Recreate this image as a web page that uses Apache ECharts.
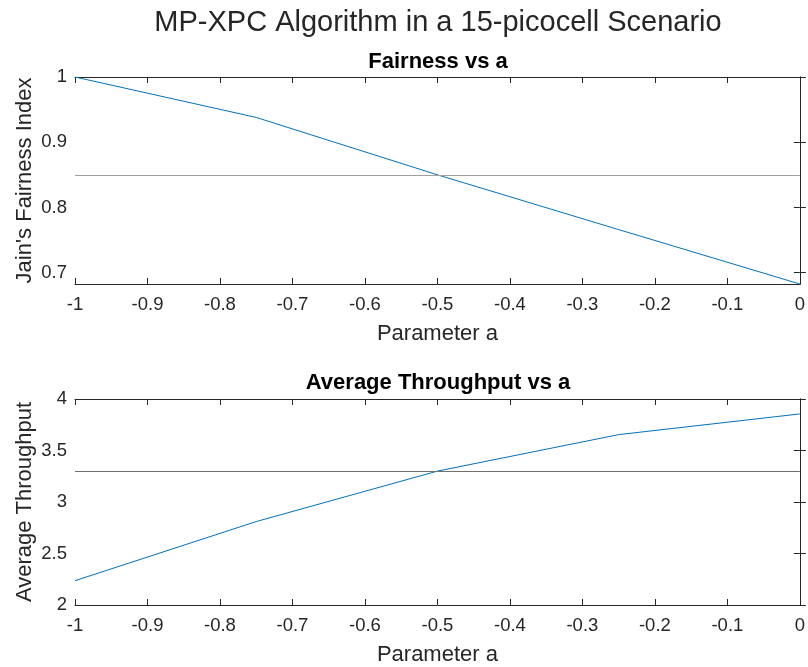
<!DOCTYPE html>
<html>
<head>
<meta charset="utf-8">
<script src="https://cdn.jsdelivr.net/npm/echarts@6/dist/echarts.min.js"></script>
<style>
  html, body { margin: 0; padding: 0; background: #fff; }
  #chart { width: 808px; height: 667px; }
</style>
</head>
<body>
<div id="chart"></div>
<script>
// Parameter a sweep and the two measured metrics
const paramA = [-1, -0.75, -0.5, -0.25, 0];
const fairness = [1.0, 0.938, 0.850, 0.766, 0.6826];
const throughput = [2.236, 2.81, 3.30, 3.654, 3.855];
const fairnessRef = 0.85;
const throughputRef = 3.30;

const xTicks = [-1, -0.9, -0.8, -0.7, -0.6, -0.5, -0.4, -0.3, -0.2, -0.1, 0];
const fairnessTicks = [0.7, 0.8, 0.9, 1];
const throughputTicks = [2, 2.5, 3, 3.5, 4];
const fairnessRange = [0.6826, 1];
const throughputRange = [2, 4];

const FONT = 'Liberation Sans';
const INK = '#262626';
const BLUE = '#0072BD';

function pairs(xs, ys) { return xs.map((x, i) => [x, ys[i]]); }

function xAxes(gridIndex) {
  const base = {
    type: 'value', gridIndex, min: -1, max: 0,
    axisLine: { show: true, lineStyle: { color: INK, width: 1 } },
    axisTick: { show: true, inside: true, length: 6, customValues: xTicks, lineStyle: { color: INK } },
    splitLine: { show: false }
  };
  return [
    Object.assign({}, base, {
      position: 'bottom',
      name: 'Parameter a', nameLocation: 'middle', nameGap: 39,
      nameTextStyle: { fontFamily: FONT, fontSize: 22, color: INK },
      axisLabel: { show: true, customValues: xTicks, fontFamily: FONT, fontSize: 18.5, color: INK, margin: 11,
                   formatter: v => String(Math.round(v * 10) / 10) }
    }),
    Object.assign({}, base, { position: 'top', axisLabel: { show: false } })
  ];
}

function yAxes(gridIndex, range, ticks, label, fmt) {
  const base = {
    type: 'value', gridIndex, min: range[0], max: range[1],
    axisLine: { show: true, lineStyle: { color: INK, width: 1 } },
    axisTick: { show: true, inside: true, length: 6, customValues: ticks, lineStyle: { color: INK } },
    splitLine: { show: false }
  };
  return [
    Object.assign({}, base, {
      position: 'left',
      name: label, nameLocation: 'middle', nameGap: 39, nameRotate: 90, nameMoveOverlap: false,
      nameTextStyle: { fontFamily: FONT, fontSize: 22, color: INK },
      axisLabel: { show: true, customValues: ticks, fontFamily: FONT, fontSize: 18.5, color: INK, margin: 8, formatter: fmt }
    }),
    Object.assign({}, base, { position: 'right', axisLabel: { show: false } })
  ];
}

const chart = echarts.init(document.getElementById('chart'), null, { renderer: 'canvas' });

chart.setOption({
  backgroundColor: '#ffffff',
  animation: false,
  title: [
    { text: 'MP-XPC Algorithm in a 15-picocell Scenario', left: 438, top: 8, textAlign: 'center', padding: 0,
      textStyle: { fontFamily: FONT, fontSize: 29, fontWeight: 'normal', color: INK } },
    { text: 'Fairness vs a', left: 438, top: 51, textAlign: 'center', padding: 0,
      textStyle: { fontFamily: FONT, fontSize: 22, fontWeight: 'bold', color: '#000' } },
    { text: 'Average Throughput vs a', left: 438, top: 372, textAlign: 'center', padding: 0,
      textStyle: { fontFamily: FONT, fontSize: 22, fontWeight: 'bold', color: '#000' } }
  ],
  grid: [
    { left: 75, right: 7, top: 77, height: 207 },
    { left: 75, right: 7, top: 399, height: 206 }
  ],
  xAxis: [].concat(xAxes(0), xAxes(1)),
  yAxis: [].concat(
    yAxes(0, fairnessRange, fairnessTicks, "Jain's Fairness Index", v => String(Math.round(v * 10) / 10)),
    yAxes(1, throughputRange, throughputTicks, 'Average Throughput', v => String(v))
  ),
  series: [
    {
      type: 'line', xAxisIndex: 0, yAxisIndex: 0, data: pairs(paramA, fairness),
      showSymbol: false, lineStyle: { color: BLUE, width: 1 }, z: 3,
      markLine: { silent: true, symbol: 'none', label: { show: false },
                  lineStyle: { color: '#a0a0a0', width: 1.2, type: 'solid' },
                  data: [{ yAxis: fairnessRef }] }
    },
    {
      type: 'line', xAxisIndex: 2, yAxisIndex: 2, data: pairs(paramA, throughput),
      showSymbol: false, lineStyle: { color: BLUE, width: 1 }, z: 3,
      markLine: { silent: true, symbol: 'none', label: { show: false },
                  lineStyle: { color: '#707070', width: 1, type: 'solid' },
                  data: [{ yAxis: throughputRef }] }
    }
  ]
});
</script>
</body>
</html>
